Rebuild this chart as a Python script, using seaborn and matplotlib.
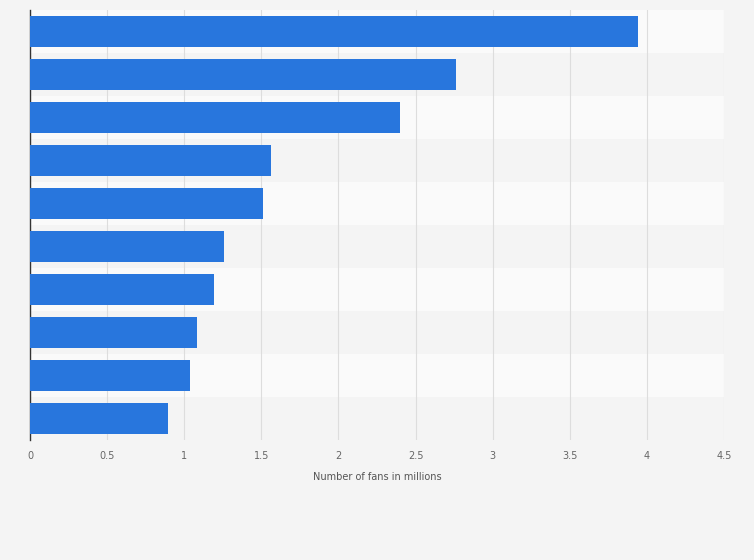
import matplotlib
matplotlib.use("Agg")
import matplotlib.pyplot as plt
import seaborn as sns
import pandas as pd

categories = ["Item 1", "Item 2", "Item 3", "Item 4", "Item 5",
              "Item 6", "Item 7", "Item 8", "Item 9", "Item 10"]
values = [3.94, 2.76, 2.40, 1.565, 1.51, 1.255, 1.19, 1.08, 1.035, 0.895]
xticks = [0, 0.5, 1, 1.5, 2, 2.5, 3, 3.5, 4, 4.5]
xticklabels = ["0", "0.5", "1", "1.5", "2", "2.5", "3", "3.5", "4", "4.5"]

df = pd.DataFrame({"cat": categories, "val": values})

fig = plt.figure(figsize=(7.54, 5.60), dpi=100, facecolor="#f4f4f4")
ax = fig.add_axes([30/754, 1-440/560, (724-30)/754, 430/560])
ax.set_facecolor("#f4f4f4")

for i in range(len(categories)):
    ax.axhspan(i-0.5, i+0.5, color="#fafafa" if i % 2 == 0 else "#f4f4f4", zorder=0, lw=0)

sns.barplot(data=df, x="val", y="cat", color="#2876dd", saturation=1,
            width=0.7, ax=ax, zorder=3)

ax.set_xlim(0, 4.5)
ax.set_ylim(len(categories)-0.5, -0.5)
ax.set_xticks(xticks)
ax.set_xticklabels(xticklabels, fontsize=7, color="#666666")
ax.set_yticks([])
ax.set_ylabel("")
ax.set_xlabel("Number of fans in millions", fontsize=7, color="#555555", labelpad=8)
ax.tick_params(axis="x", length=0, pad=8)
ax.grid(axis="x", color="#dddddd", lw=0.8, zorder=1)
ax.set_axisbelow(True)
for s in ["top", "right", "bottom"]:
    ax.spines[s].set_visible(False)
ax.spines["left"].set_color("#333333")
ax.spines["left"].set_linewidth(1)

fig.savefig("out.png", dpi=100, facecolor=fig.get_facecolor())
